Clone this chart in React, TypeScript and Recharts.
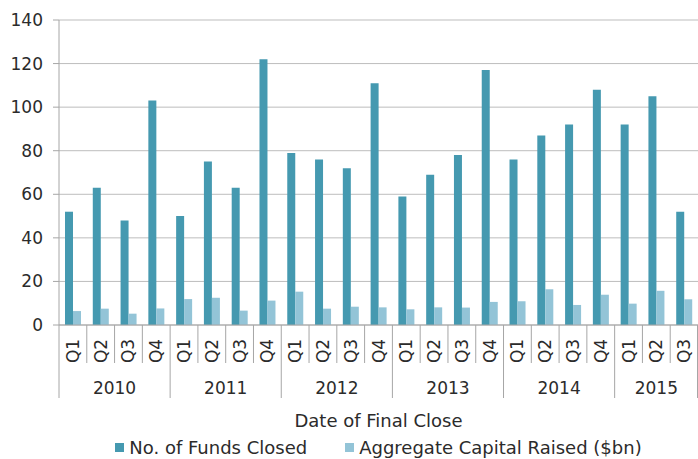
import { Bar, BarChart, CartesianGrid, Label, Legend, XAxis, YAxis } from "recharts";

const quarters = [
  "Q1", "Q2", "Q3", "Q4",
  "Q1", "Q2", "Q3", "Q4",
  "Q1", "Q2", "Q3", "Q4",
  "Q1", "Q2", "Q3", "Q4",
  "Q1", "Q2", "Q3", "Q4",
  "Q1", "Q2", "Q3",
];
const years = [
  "2010", "2010", "2010", "2010",
  "2011", "2011", "2011", "2011",
  "2012", "2012", "2012", "2012",
  "2013", "2013", "2013", "2013",
  "2014", "2014", "2014", "2014",
  "2015", "2015", "2015",
];
const fundsClosed = [52, 63, 48, 103, 50, 75, 63, 122, 79, 76, 72, 111, 59, 69, 78, 117, 76, 87, 92, 108, 92, 105, 52];
const capitalRaised = [6.4, 7.5, 5.2, 7.6, 11.9, 12.5, 6.6, 11.2, 15.3, 7.5, 8.4, 8.1, 7.2, 8.1, 8.0, 10.6, 10.9, 16.4, 9.2, 13.9, 9.8, 15.7, 11.8];
const yTicks = [0, 20, 40, 60, 80, 100, 120, 140];
const seriesOrder = ["funds", "capital"];

const data = quarters.map((q, i) => ({
  key: `${years[i]} ${q}`,
  quarter: q,
  year: years[i],
  funds: fundsClosed[i],
  capital: capitalRaised[i],
}));

const W = 698;
const H = 459;
const Y_AXIS_W = 59;
const BAND = (W - Y_AXIS_W) / data.length;
const FONT = "'DejaVu Sans', sans-serif";
const TEXT = "#2b2b2b";
const LINE = "#a6a6a6";

function QuarterTick(props: any) {
  const { x, y, index } = props;
  const row = data[index];
  if (!row) return null;
  const left = x - BAND / 2;
  const yearStart = index === 0 || data[index - 1].year !== row.year;
  const last = index === data.length - 1;
  let yearLabel = null;
  if (yearStart) {
    const count = data.filter((d) => d.year === row.year).length;
    yearLabel = (
      <text x={left + (count * BAND) / 2} y={y + 63} textAnchor="middle" dominantBaseline="central"
        fill={TEXT} fontSize={17} fontFamily={FONT}>
        {row.year}
      </text>
    );
  }
  return (
    <g>
      <line x1={left} x2={left} y1={y} y2={y + (yearStart ? 73 : 38)} stroke={LINE} />
      {last && <line x1={x + BAND / 2 - 0.5} x2={x + BAND / 2 - 0.5} y1={y} y2={y + 73} stroke={LINE} />}
      <text x={x} y={y + 26} textAnchor="middle" dominantBaseline="central" fill={TEXT}
        fontSize={17} fontFamily={FONT} transform={`rotate(-90 ${x} ${y + 26})`}>
        {row.quarter}
      </text>
      {yearLabel}
    </g>
  );
}

function LegendContent(props: any) {
  const items = [...(props.payload || [])].sort(
    (a: any, b: any) => seriesOrder.indexOf(a.dataKey) - seriesOrder.indexOf(b.dataKey)
  );
  return (
    <div style={{ display: "flex", justifyContent: "center", alignItems: "center", height: 24, fontFamily: FONT, fontSize: 18, color: TEXT }}>
      {items.map((it: any, i: number) => (
        <div key={i} style={{ display: "flex", alignItems: "center", marginLeft: i ? 38 : 0 }}>
          <span style={{ width: 9, height: 9, background: it.color, marginRight: 5, display: "inline-block" }} />
          <span>{it.value}</span>
        </div>
      ))}
    </div>
  );
}

export default function App() {
  return (
    <div style={{ position: "absolute", left: 0, top: 0, background: "#fff" }}>
      <BarChart width={W} height={H} data={data} margin={{ top: 20, right: 0, left: 0, bottom: 0 }}
        barGap={0} barSize={8}>
        <CartesianGrid vertical={false} stroke="#bdbdbd" />
        <XAxis dataKey="key" interval={0} height={110} tickSize={0} tickMargin={0} tickLine={false}
          stroke={LINE} tick={<QuarterTick />}>
          <Label value="Date of Final Close" position="insideBottom" offset={8} fill={TEXT}
            fontSize={18} fontFamily={FONT} />
        </XAxis>
        <YAxis width={Y_AXIS_W} domain={[0, 140]} ticks={yTicks} interval={0} stroke={LINE} tickSize={6}
          tickMargin={10} tick={{ fill: TEXT, fontSize: 17, fontFamily: FONT }} />
        <Legend verticalAlign="bottom" content={<LegendContent />}
          wrapperStyle={{ left: Y_AXIS_W, width: W - Y_AXIS_W }} />
        <Bar dataKey="funds" name="No. of Funds Closed" fill="#4599b0" isAnimationActive={false} />
        <Bar dataKey="capital" name="Aggregate Capital Raised ($bn)" fill="#93c4d7" isAnimationActive={false} />
      </BarChart>
    </div>
  );
}
